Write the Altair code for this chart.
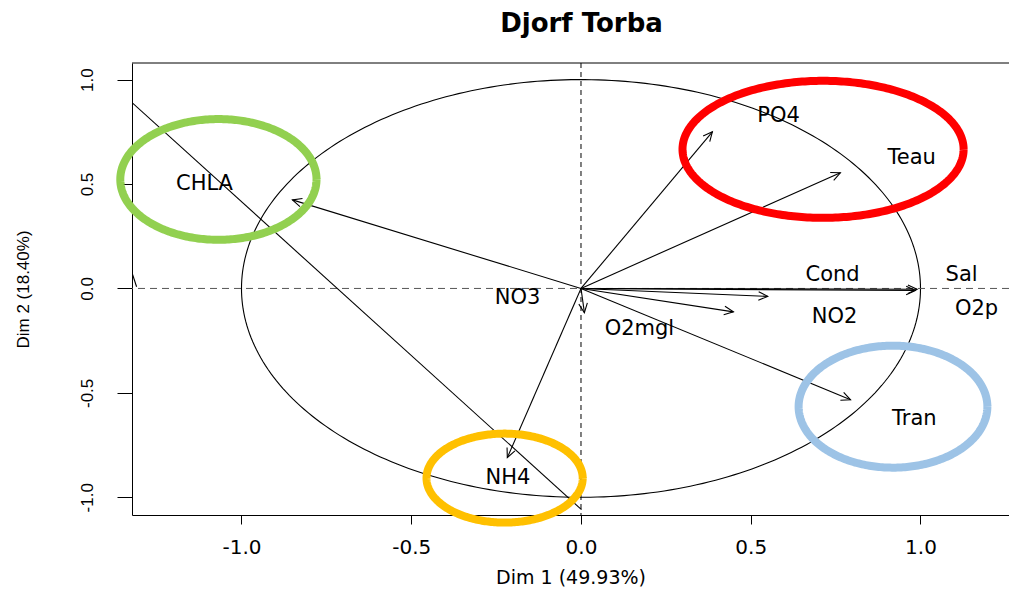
import altair as alt
import pandas as pd

# ---- data ----
label_names = ["CHLA", "PO4", "Teau", "Cond", "Sal", "NO2", "O2p", "Tran", "NO3", "O2mgl", "NH4"]
label_x = [-1.109, 0.582, 0.974, 0.741, 1.121, 0.747, 1.165, 0.982, -0.187, 0.172, -0.215]
label_y = [0.499, 0.824, 0.625, 0.066, 0.066, -0.135, -0.100, -0.626, -0.044, -0.193, -0.908]

arrow_names = ["CHLA", "PO4", "Teau", "Cond", "Sal", "O2p", "NO2", "Tran", "O2mgl", "NH4"]
arrow_x = [-0.850, 0.387, 0.764, 0.985, 0.990, 0.550, 0.449, 0.794, 0.010, -0.217]
arrow_y = [0.424, 0.750, 0.554, -0.010, -0.004, -0.038, -0.112, -0.533, -0.116, -0.810]

# extra line segments seen inside the plot
seg_x1 = [-1.3225, -1.3225]
seg_y1 = [0.890, 0.075]
seg_x2 = [0.0015, -1.309]
seg_y2 = [-1.059, 0.008]

# highlight ellipses (centre, radii in data units)
ell_cx = [-1.068, 0.713, 0.919, -0.225]
ell_cy = [0.522, 0.666, -0.566, -0.908]
ell_rx = [0.289, 0.414, 0.278, 0.230]
ell_ry = [0.289, 0.328, 0.292, 0.213]
ell_color = ["#92D050", "#FF0000", "#9DC3E6", "#FFC000"]

x_ticks = [-1.0, -0.5, 0.0, 0.5, 1.0]
y_ticks = [-1.0, -0.5, 0.0, 0.5, 1.0]

title_text = "Djorf Torba"
x_title = "Dim 1 (49.93%)"
y_title = "Dim 2 (18.40%)"

# ---- layout ----
W, H = 877, 452
XDOM = [-1.3225, 1.2607]
YDOM = [-1.0847, 1.0794]
kx = W / (XDOM[1] - XDOM[0])
ky = H / (YDOM[1] - YDOM[0])

xs = alt.Scale(domain=XDOM, nice=False, zero=False)
ys = alt.Scale(domain=YDOM, nice=False, zero=False)

label_expr = "datum.value < 0 ? '-' + format(abs(datum.value), '.1f') : format(datum.value, '.1f')"

x_axis = alt.Axis(
    values=x_ticks, labelExpr=label_expr, title=x_title, grid=False,
    domainColor="black", tickColor="black", tickSize=9, labelPadding=13,
    labelFont="DejaVu Sans", labelFontSize=20, labelColor="black",
    labelFlush=False, labelOverlap=False,
    titleFont="DejaVu Sans", titleFontSize=19, titleFontWeight="normal",
    titleColor="black", titleY=68, titleBaseline="alphabetic",
)
y_axis = alt.Axis(
    values=y_ticks, labelExpr=label_expr, title=y_title, grid=False,
    domainColor="black", tickColor="black", tickSize=15, labelPadding=25,
    labelAngle=270, labelAlign="center", labelBaseline="alphabetic",
    labelFont="Liberation Sans", labelFontSize=17, labelColor="black",
    labelFlush=False, labelOverlap=False,
    titleFont="Liberation Sans", titleFontSize=17, titleFontWeight="normal",
    titleColor="black", titleAngle=270, titleX=-104, titleY=226,
    titleAlign="center", titleBaseline="alphabetic",
)


def ellipse_layer(cx, cy, rx, ry, color, width, clip):
    return (
        alt.Chart(alt.sequence(0, 6.32, 0.02, as_="t"))
        .transform_calculate(
            ex=f"{cx} + {rx} * cos(datum.t)",
            ey=f"{cy} + {ry} * sin(datum.t)",
        )
        .mark_line(color=color, strokeWidth=width, clip=clip)
        .encode(
            x=alt.X("ex:Q", scale=xs, axis=x_axis),
            y=alt.Y("ey:Q", scale=ys, axis=y_axis),
            order="t:Q",
        )
    )


# correlation circle
circle = ellipse_layer(0, 0, 1, 1, "black", 1.1, True)

top_border = alt.Chart().mark_rule(color="black", strokeWidth=1).encode(y=alt.datum(YDOM[1]))
h_dash = alt.Chart().mark_rule(color="#555555", strokeDash=[7, 5], strokeWidth=1).encode(y=alt.datum(0))
v_dash = alt.Chart().mark_rule(color="black", strokeDash=[5, 4], strokeWidth=1).encode(x=alt.datum(0))

seg_df = pd.DataFrame({"x1": seg_x1, "y1": seg_y1, "x2": seg_x2, "y2": seg_y2})
segments = alt.Chart(seg_df).mark_rule(color="black", strokeWidth=1.1, clip=True).encode(
    x="x1:Q", y="y1:Q", x2="x2:Q", y2="y2:Q"
)

arr_df = pd.DataFrame({"name": arrow_names, "x": arrow_x, "y": arrow_y})
arr_df["x0"] = 0.0
arr_df["y0"] = 0.0
shafts = alt.Chart(arr_df).mark_rule(color="black", strokeWidth=1.1).encode(
    x="x0:Q", y="y0:Q", x2="x:Q", y2="y:Q"
)
head_path = "M -0.42 0.9 L 0 0 L 0.42 0.9"
heads = (
    alt.Chart(arr_df)
    .transform_calculate(ang=f"(atan2(datum.x * {kx}, datum.y * {ky}) * 180 / PI + 360) % 360")
    .mark_point(shape=head_path, filled=False, size=420, strokeWidth=1.1, opacity=1, color="black")
    .encode(x="x:Q", y="y:Q", angle=alt.Angle("ang:Q", scale=None))
)

lab_df = pd.DataFrame({"name": label_names, "x": label_x, "y": label_y})
labels = alt.Chart(lab_df).mark_text(
    font="DejaVu Sans", fontSize=21, color="black", align="center", baseline="middle"
).encode(x="x:Q", y="y:Q", text="name:N")

ellipses = [
    ellipse_layer(ell_cx[i], ell_cy[i], ell_rx[i], ell_ry[i], ell_color[i], 8, False)
    for i in range(len(ell_cx))
]

chart = (
    alt.layer(circle, top_border, h_dash, v_dash, segments, shafts, heads, labels, *ellipses)
    .properties(
        width=W,
        height=H,
        title=alt.TitleParams(
            title_text, font="DejaVu Sans", fontSize=26, fontWeight="bold", color="black",
            anchor="middle", frame="group", dx=11, offset=5, baseline="alphabetic",
        ),
        autosize=alt.AutoSizeParams(type="none"),
        padding={"left": 124, "top": 55, "right": 0, "bottom": 72},
        background="white",
    )
    .configure_view(stroke=None)
)

chart.save("out.html", embed_options={"renderer": "svg", "actions": False})
